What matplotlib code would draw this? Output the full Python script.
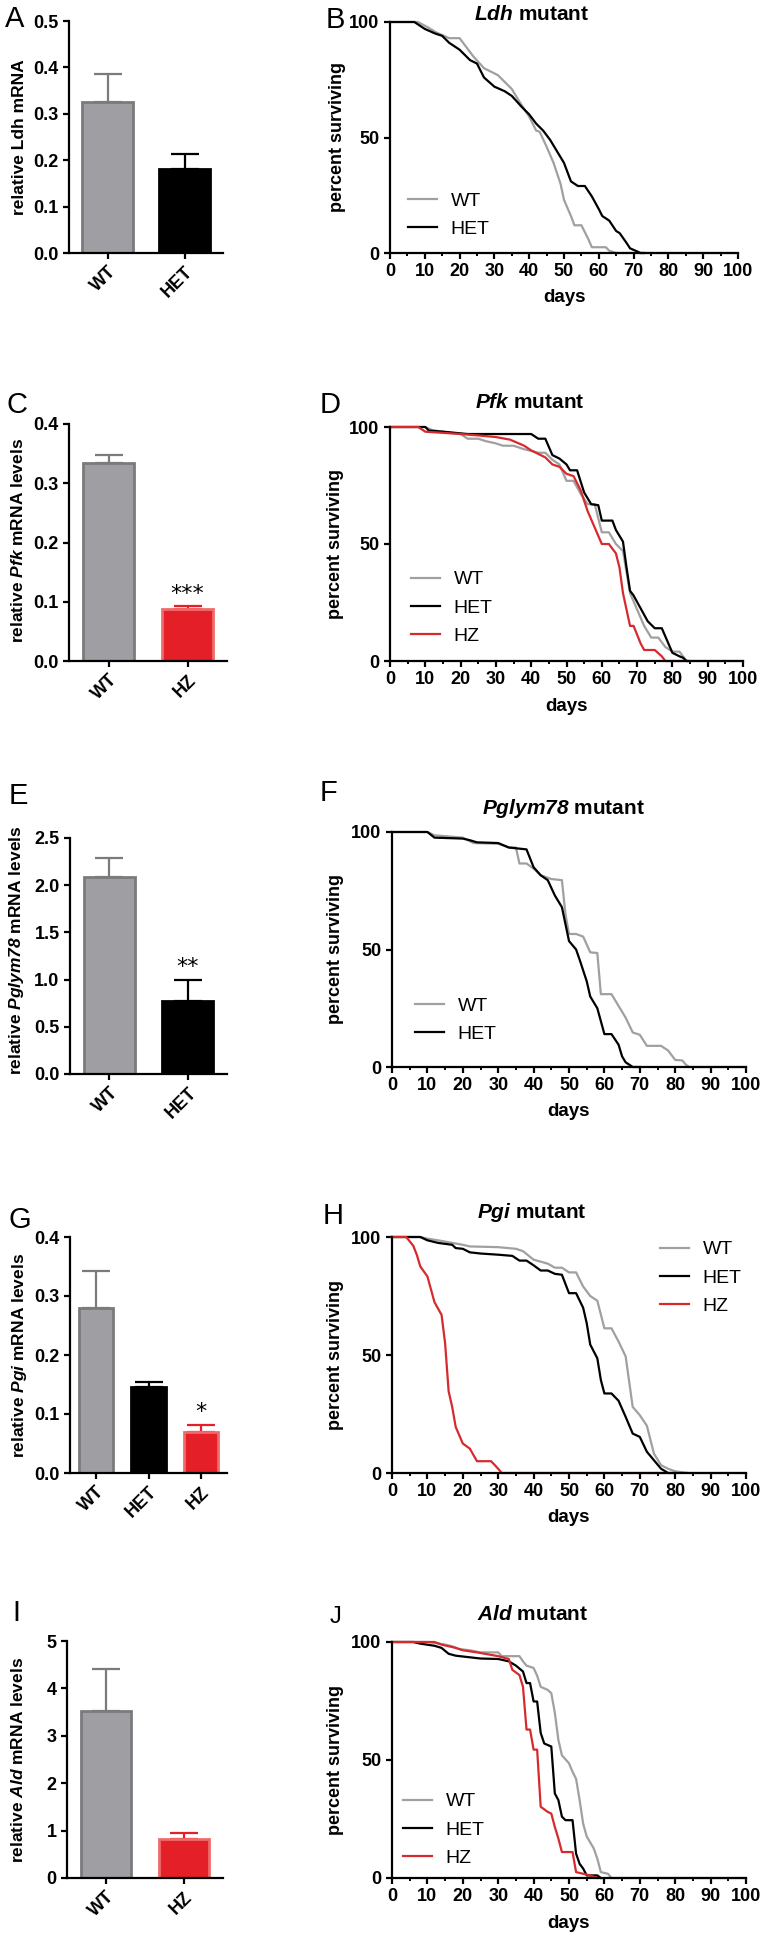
import numpy as np
import matplotlib
matplotlib.use('Agg')
import matplotlib.pyplot as plt
from matplotlib.ticker import MultipleLocator, FormatStrFormatter

plt.rcParams['font.family'] = ['Liberation Sans', 'DejaVu Sans']
plt.rcParams['mathtext.fontset'] = 'custom'
plt.rcParams['mathtext.it'] = 'Liberation Sans:italic:bold'
plt.rcParams['mathtext.rm'] = 'Liberation Sans:italic:bold'

W, H = 764, 1938

# ---- bar chart data (relative mRNA) ----
ldh_groups = ['WT', 'HET']
ldh_mean = [0.325, 0.180]
ldh_err = [0.060, 0.033]

pfk_groups = ['WT', 'HZ']
pfk_mean = [0.335, 0.088]
pfk_err = [0.013, 0.004]

pgl_groups = ['WT', 'HET']
pgl_mean = [2.09, 0.77]
pgl_err = [0.20, 0.23]

pgi_groups = ['WT', 'HET', 'HZ']
pgi_mean = [0.280, 0.145, 0.069]
pgi_err = [0.062, 0.010, 0.013]

ald_groups = ['WT', 'HZ']
ald_mean = [3.52, 0.83]
ald_err = [0.88, 0.12]

# ---- survival data (percent surviving vs days) ----
ldh_wt_days = [0, 8, 10.5, 13.4, 17, 20, 22, 24, 27, 31, 33, 35, 37, 40, 42, 43, 45, 47, 49, 50, 52, 53, 55, 57, 58, 62, 63, 65, 100]
ldh_wt = [100, 100, 98, 95.4, 93, 93, 89, 85, 80, 77, 74, 71, 66, 59, 53, 52.5, 46, 39, 30, 23, 16, 12, 12, 6, 2.5, 2.5, 1, 0, 0]
ldh_het_days = [0, 7, 10, 13, 15, 17, 20, 23, 25, 27, 30, 33, 35, 38, 40, 42, 44, 46, 48, 50, 52, 54, 56, 58, 60, 61, 63, 65, 66, 68, 69, 71, 72, 73]
ldh_het = [100, 100, 97, 95, 94, 91, 88, 83.5, 82, 76, 72, 70, 68, 63, 60, 56, 53, 49, 44, 39, 31, 29, 29, 24.5, 19, 16, 14, 9.5, 8.6, 4.3, 2, 0.7, 0, 0]

pfk_wt_days = [0, 10, 12, 20, 22, 25, 27, 30, 32, 35, 38, 42, 44, 46, 48, 50, 52, 54, 56, 58, 60, 62, 64, 66, 68, 70, 72, 74, 76, 78, 80, 82, 83, 84, 100]
pfk_wt = [100, 100, 98.6, 97, 95, 95, 94, 93, 92, 92, 90.5, 89, 89, 86, 84, 77, 77, 71.5, 67, 67, 55, 55, 50, 47, 29, 22, 15, 10, 10, 6, 4, 4, 2, 0, 0]
pfk_het_days = [0, 10, 11, 15, 22, 40, 42, 44, 46, 48, 50, 51, 53, 55, 57, 59, 60, 63, 64, 66, 67, 68, 69, 71, 73, 75, 77, 79, 80, 82, 83, 84, 84.5]
pfk_het = [100, 100, 98.5, 98, 97, 97, 95, 95, 88, 86.5, 84, 81.5, 81.5, 72, 67, 66.6, 60, 60, 56, 51, 40, 30, 28, 22.5, 17, 14, 14, 7, 3.5, 2, 1.4, 0, 0]
pfk_hz_days = [0, 8, 10, 15, 20, 25, 30, 34, 38, 40, 44, 46, 48, 50, 52, 54, 56, 58, 60, 62, 64, 65, 66, 68, 69, 71, 72, 75, 77, 78, 84]
pfk_hz = [100, 100, 98, 97.5, 97, 96.4, 95.7, 94.6, 92, 90, 87, 84, 83, 80, 79, 73, 64, 57, 50, 50, 46, 40, 29, 15, 15, 7.5, 4.7, 4.7, 2, 0, 0]

pgl_wt_days = [0, 10, 12, 20, 23, 30, 33, 35, 36, 38, 40, 42, 45, 48, 49, 50, 52, 54, 56, 58, 59, 62, 64, 66, 68, 70, 72, 76, 78, 80, 82, 83, 84, 100]
pgl_wt = [100, 100, 98.6, 97.6, 95.3, 95, 93.4, 93.4, 86.6, 86.6, 84.4, 81.6, 80, 79.5, 65, 56.6, 56.6, 55.5, 48.8, 48.5, 31, 31, 26, 21, 14.7, 13.7, 9, 9, 7, 3, 2.8, 1, 0, 0]
pgl_het_days = [0, 10, 12, 20, 22, 24, 30, 33, 38, 40, 42, 44, 46, 48, 50, 52, 53, 55, 56, 58, 60, 62, 64, 65, 66, 67, 68, 70]
pgl_het = [100, 100, 97.6, 97.2, 96.5, 95.6, 95.3, 93.4, 92.6, 85, 81.6, 79.5, 73, 68, 53.6, 50, 45.7, 36.5, 30, 25, 14, 14, 9.5, 4.5, 2, 1, 0, 0]

pgi_wt_days = [0, 8, 10, 13, 17, 20, 22, 30, 35, 37, 40, 44, 46, 48, 50, 52, 54, 56, 58, 60, 62, 64, 66, 68, 70, 72, 74, 76, 78, 80, 84, 100]
pgi_wt = [100, 100, 99.3, 98.6, 97.5, 96.7, 96, 95.7, 95, 94, 90.4, 88.7, 87, 87, 85, 85, 79, 75, 73, 61.3, 61.3, 55.7, 49.4, 28, 24.5, 20, 8.2, 3.3, 1.8, 0.7, 0, 0]
pgi_het_days = [0, 8, 10, 13, 17, 18, 20, 22, 25, 30, 34, 36, 38, 40, 42, 44, 46, 48, 50, 52, 54, 55, 56, 58, 59, 60, 62, 64, 66, 68, 70, 72, 74, 76, 78, 80]
pgi_het = [100, 100, 98.6, 97.5, 96.7, 95.3, 95, 93.5, 93, 92.5, 92, 90, 90, 88, 85.8, 85.8, 84.4, 84, 76.2, 76.2, 70, 63.5, 54.4, 48.6, 39.4, 33.7, 33.7, 30.6, 23.8, 16.7, 15.3, 9, 5.4, 1.8, 0, 0]
pgi_hz_days = [0, 4, 6, 7, 8, 10, 12, 14, 15, 16, 17, 18, 20, 22, 24, 28, 30, 31, 77]
pgi_hz = [100, 100, 96.3, 92.5, 87.5, 83.3, 72.4, 67, 55, 34.6, 28, 19.5, 12.5, 10.3, 5, 5, 1.8, 0, 0]

ald_wt_days = [0, 10, 12, 15, 17, 19, 22, 25, 30, 31, 36, 37, 38, 40, 41, 42, 44, 45, 46, 47, 48, 50, 51, 52, 53, 54, 55, 57, 58, 59, 61, 62, 100]
ald_wt = [100, 100, 99.6, 98.9, 98.2, 97, 96.5, 95.6, 95.6, 94, 94, 91.8, 90, 89, 85.7, 81, 79.7, 78.3, 70, 58.5, 52, 48.6, 45, 42, 33, 23, 17.6, 12.5, 8.2, 2.5, 1.8, 0, 0]
ald_het_days = [0, 6, 8, 12, 14, 16, 18, 25, 30, 33, 35, 37, 38, 39, 40, 41, 42, 43, 45, 46, 47, 48, 49, 51, 52, 53, 54, 55, 58, 59]
ald_het = [100, 100, 99.3, 98.4, 97.5, 95, 94.2, 93, 92.8, 91.8, 90, 87.5, 82.6, 82.6, 74.8, 74.8, 61.5, 57, 55.7, 35.8, 33, 26, 24.5, 24.5, 10.3, 6, 4, 1.1, 1.1, 0]
ald_hz_days = [0, 12, 14, 18, 20, 24, 30, 33, 34, 36, 37, 38, 39, 40, 41, 42, 44, 45, 46, 47, 48, 51, 52, 54, 56, 58]
ald_hz = [100, 100, 98.9, 97.5, 96.5, 95.6, 94, 92.8, 88.2, 86, 81, 62.9, 62.9, 54.4, 54.4, 30.2, 28, 27.3, 21.6, 16.7, 11, 11, 2.5, 1.8, 1.1, 0]

BAR_FILL = {'WT': '#9e9ea3', 'HET': '#000000', 'HZ': '#e41f27'}
BAR_EDGE = {'WT': '#7b7b7d', 'HET': '#000000', 'HZ': '#ef6b6b'}
ERR_COL = {'WT': '#7b7b7d', 'HET': '#000000', 'HZ': '#e41f27'}
LINE_COL = {'WT': '#a0a0a0', 'HET': '#000000', 'HZ': '#d62a2e'}

fig = plt.figure(figsize=(W / 100, H / 100), dpi=100)


def px_axes(l, t, r, b):
    return fig.add_axes([l / W, 1 - b / H, (r - l) / W, (b - t) / H])


def ftext(x, y, s, **kw):
    fig.text(x / W, 1 - y / H, s, **kw)


def style_spines(ax):
    for s in ['top', 'right']:
        ax.spines[s].set_visible(False)
    for s in ['left', 'bottom']:
        ax.spines[s].set_linewidth(1.6)


def bar_panel(box, groups, means, errs, ymax, step, fmt, ylabel, lab_xy, stars=None):
    ax = px_axes(*box)
    x = np.arange(len(groups))
    for i, g in enumerate(groups):
        ax.errorbar(x[i], means[i], yerr=[[0], [errs[i]]], color=ERR_COL[g],
                    elinewidth=1.6, capsize=10, capthick=1.6, zorder=1)
        ax.bar(x[i], means[i], width=0.65, color=BAR_FILL[g], edgecolor=BAR_EDGE[g],
               linewidth=2.0, zorder=2)
    if stars:
        i, s = stars
        ax.text(x[i], means[i] + errs[i] + ymax * 0.01, s, ha='center', va='bottom',
                fontsize=16, fontweight='normal', family='DejaVu Sans')
    ax.set_xlim(-0.5, len(groups) - 0.5)
    ax.set_ylim(0, ymax)
    ax.yaxis.set_major_locator(MultipleLocator(step))
    ax.yaxis.set_major_formatter(FormatStrFormatter(fmt))
    ax.set_xticks(x)
    ax.set_xticklabels(groups, rotation=45, ha='right', rotation_mode='anchor')
    ax.tick_params(axis='both', width=1.6, length=4, labelsize=13, direction='out')
    for lbl in ax.get_xticklabels() + ax.get_yticklabels():
        lbl.set_fontweight('bold')
    style_spines(ax)
    ftext(lab_xy[0], lab_xy[1], ylabel, rotation=90, ha='center', va='center',
          fontsize=12.5, fontweight='bold')
    return ax


def surv_panel(box, curves, title, title_xy, ylab_x, leg_xy):
    ax = px_axes(*box)
    for name, days, vals in curves:
        ax.plot(days, vals, color=LINE_COL[name], lw=1.6, label=name, clip_on=False)
    ax.set_xlim(0, 100)
    ax.set_ylim(0, 100)
    ax.set_xticks(np.arange(0, 101, 10))
    ax.xaxis.set_minor_locator(MultipleLocator(5))
    ax.set_yticks([0, 50, 100])
    ax.tick_params(axis='both', which='major', width=1.6, length=4, labelsize=13)
    ax.tick_params(axis='x', which='minor', width=1.4, length=2.5)
    for lbl in ax.get_xticklabels() + ax.get_yticklabels():
        lbl.set_fontweight('bold')
    style_spines(ax)
    l, t, r, b = box
    ftext(ylab_x, (t + b) / 2, 'percent surviving', rotation=90, ha='center',
          va='center', fontsize=13, fontweight='bold')
    ftext((l + r) / 2, b + 45, 'days', ha='center', va='center', fontsize=13.5,
          fontweight='bold')
    ftext(title_xy[0], title_xy[1], title, ha='center', va='center', fontsize=15,
          fontweight='bold')
    ax.legend(loc='center left', bbox_to_anchor=(leg_xy[0] / W, 1 - leg_xy[1] / H),
              bbox_transform=fig.transFigure, frameon=False, fontsize=14,
              handlelength=1.5, handletextpad=0.7, labelspacing=0.55, borderpad=0,
              borderaxespad=0)
    return ax


# A / B  Ldh
bar_panel((69, 21, 223, 253), ldh_groups, ldh_mean, ldh_err, 0.5, 0.1, '%.1f',
          'relative Ldh mRNA', (20, 137))
surv_panel((390, 22, 738, 253),
           [('WT', ldh_wt_days, ldh_wt), ('HET', ldh_het_days, ldh_het)],
           r'$\mathit{Ldh}$ mutant', (532, 15), 337, (408, 215))

# C / D  Pfk
bar_panel((69, 424, 227, 661), pfk_groups, pfk_mean, pfk_err, 0.4, 0.1, '%.1f',
          r'relative $\mathit{Pfk}$ mRNA levels', (18, 540), stars=(1, '***'))
surv_panel((390, 427, 743, 661),
           [('WT', pfk_wt_days, pfk_wt), ('HET', pfk_het_days, pfk_het),
            ('HZ', pfk_hz_days, pfk_hz)],
           r'$\mathit{Pfk}$ mutant', (530, 403), 335, (411, 608))

# E / F  Pglym78
bar_panel((70, 838, 227, 1074), pgl_groups, pgl_mean, pgl_err, 2.5, 0.5, '%.1f',
          r'relative $\mathit{Pglym78}$ mRNA levels', (17, 950), stars=(1, '**'))
surv_panel((392, 832, 746, 1067),
           [('WT', pgl_wt_days, pgl_wt), ('HET', pgl_het_days, pgl_het)],
           r'$\mathit{Pglym78}$ mutant', (563, 808), 335, (415, 1020))

# G / H  Pgi
bar_panel((70, 1237, 227, 1473), pgi_groups, pgi_mean, pgi_err, 0.4, 0.1, '%.1f',
          r'relative $\mathit{Pgi}$ mRNA levels', (20, 1355), stars=(2, '*'))
surv_panel((392, 1237, 746, 1473),
           [('WT', pgi_wt_days, pgi_wt), ('HET', pgi_het_days, pgi_het),
            ('HZ', pgi_hz_days, pgi_hz)],
           r'$\mathit{Pgi}$ mutant', (532, 1213), 335, (660, 1278))

# I / J  Ald
bar_panel((67, 1641, 223, 1878), ald_groups, ald_mean, ald_err, 5, 1, '%d',
          r'relative $\mathit{Ald}$ mRNA levels', (18, 1760))
surv_panel((392, 1642, 746, 1878),
           [('WT', ald_wt_days, ald_wt), ('HET', ald_het_days, ald_het),
            ('HZ', ald_hz_days, ald_hz)],
           r'$\mathit{Ald}$ mutant', (533, 1615), 335, (403, 1830))

# panel letters
letters = ['A', 'B', 'C', 'D', 'E', 'F', 'G', 'H', 'I', 'J']
letter_xy = [(15, 19), (335, 20), (17, 405), (330, 405), (18, 796), (328, 793),
             (20, 1220), (333, 1216), (16, 1613), (335, 1617)]
for s, (lx, ly) in zip(letters, letter_xy):
    ftext(lx, ly, s, ha='center', va='center', fontsize=21 if s != 'J' else 17)

fig.savefig('out.png', dpi=100)
